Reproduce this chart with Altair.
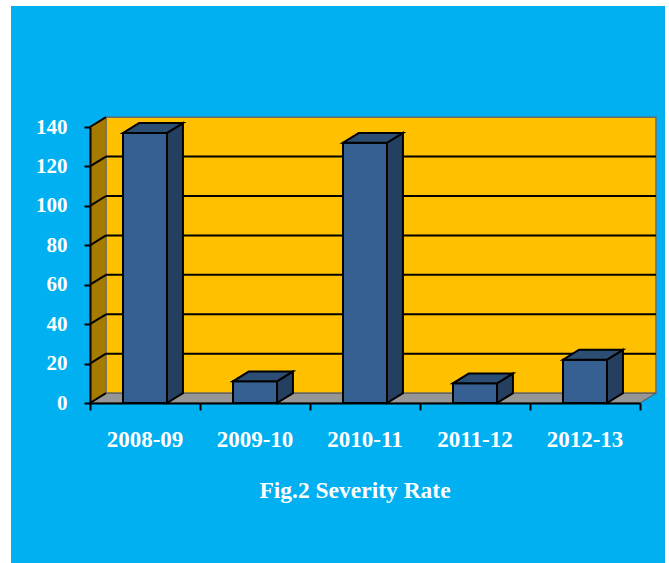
import altair as alt
import pandas as pd

# Severity rate per financial year
categories = ["2008-09", "2009-10", "2010-11", "2011-12", "2012-13"]
values = [137, 11, 132, 10, 22]
y_ticks = [0, 20, 40, 60, 80, 100, 120, 140]

# Pseudo-3D depth, expressed in data units of the x (category index) and y scales
DX = 0.145
DY = 5.0
BAR_L, BAR_R = 0.3, 0.7
N = len(categories)
YMAX = 140

FONT = "Liberation Serif"
PANEL = "#00B0F0"
WALL = "#FFC000"
SIDE_WALL = "#A67C00"
FLOOR = "#969696"
FRONT = "#376092"
SIDE = "#243F60"
TOP = "#2C4D74"

xs = alt.Scale(domain=[0, N], nice=False, zero=False)
ys = alt.Scale(domain=[0, YMAX], nice=False)

x_axis = alt.Axis(values=list(range(N + 1)), labels=False, title=None, grid=False,
                  tickColor="black", tickSize=7, tickWidth=2,
                  domainColor="black", domainWidth=2, zindex=2)
y_axis = alt.Axis(values=y_ticks, title=None, grid=False,
                  labelFont=FONT, labelFontWeight="bold", labelFontSize=21,
                  labelColor="white", labelPadding=17,
                  labelOverlap=False, labelFlush=False, labelBound=False,
                  tickColor="black", tickSize=6, tickWidth=2,
                  domainColor="black", domainWidth=2, zindex=2)


def X(field):
    return alt.X(field, scale=xs, axis=x_axis)


def Y(field):
    return alt.Y(field, scale=ys, axis=y_axis)


# Blue panel behind everything
panel = alt.Chart(pd.DataFrame({"k": [0]})).mark_rect(fill=PANEL).encode(
    x=alt.value(-79), x2=alt.value(575), y=alt.value(-121), y2=alt.value(436)
)

# Back wall
back = alt.Chart(pd.DataFrame({"x": [DX], "x2": [N + DX], "y": [DY], "y2": [YMAX + DY]})).mark_rect(
    fill=WALL, stroke="#6b6b6b", strokeWidth=1.5
).encode(x=X("x:Q"), x2="x2:Q", y=Y("y:Q"), y2="y2:Q")

# Left side wall (parallelogram)
left_df = pd.DataFrame({"x": [0, DX], "y": [0, DY], "y2": [YMAX, YMAX + DY]})
left = alt.Chart(left_df).mark_area(fill=SIDE_WALL, stroke="#6b6b6b", strokeWidth=1, opacity=1).encode(
    x=X("x:Q"), y=Y("y:Q"), y2="y2:Q"
)

# Floor (parallelogram)
floor_df = pd.DataFrame({"y": [0, DY], "x": [0, DX], "x2": [N, N + DX]})
floor = alt.Chart(floor_df).mark_area(orient="horizontal", fill=FLOOR, stroke="#555555",
                                      strokeWidth=1, opacity=1).encode(
    y=Y("y:Q"), x=X("x:Q"), x2="x2:Q"
)

# Gridlines on the back wall and their diagonals on the side wall
grid_vals = [v for v in y_ticks if 0 < v < YMAX]
back_grid = alt.Chart(pd.DataFrame({"v": [v + DY for v in grid_vals],
                                    "a": [DX] * len(grid_vals),
                                    "b": [N + DX] * len(grid_vals)})).mark_rule(
    color="black", strokeWidth=2
).encode(x=X("a:Q"), x2="b:Q", y=Y("v:Q"))

diag_df = pd.DataFrame({"y": y_ticks, "y2": [v + DY for v in y_ticks],
                        "a": [0] * len(y_ticks), "b": [DX] * len(y_ticks)})
diag = alt.Chart(diag_df).mark_rule(color="black", strokeWidth=2).encode(
    x=X("a:Q"), x2="b:Q", y=Y("y:Q"), y2="y2:Q"
)

# Bars: front face, side face, top face
idx = list(range(N))
front_df = pd.DataFrame({"cat": categories, "x": [i + BAR_L for i in idx],
                         "x2": [i + BAR_R for i in idx], "v": values, "base": [0] * N})
front = alt.Chart(front_df).mark_rect(fill=FRONT, stroke="black", strokeWidth=2).encode(
    x=X("x:Q"), x2="x2:Q", y=Y("v:Q"), y2="base:Q"
)

side_rows = []
for i, (c, v) in enumerate(zip(categories, values)):
    side_rows.append({"cat": c, "x": i + BAR_R, "y": 0, "y2": v})
    side_rows.append({"cat": c, "x": i + BAR_R + DX, "y": DY, "y2": v + DY})
side = alt.Chart(pd.DataFrame(side_rows)).mark_area(fill=SIDE, stroke="black", strokeWidth=2,
                                                     opacity=1).encode(
    x=X("x:Q"), y=Y("y:Q"), y2="y2:Q", detail="cat:N"
)

top_rows = []
for i, (c, v) in enumerate(zip(categories, values)):
    top_rows.append({"cat": c, "y": v, "x": i + BAR_L, "x2": i + BAR_R})
    top_rows.append({"cat": c, "y": v + DY, "x": i + BAR_L + DX, "x2": i + BAR_R + DX})
top = alt.Chart(pd.DataFrame(top_rows)).mark_area(orient="horizontal", fill=TOP, stroke="black",
                                                  strokeWidth=2, opacity=1).encode(
    y=Y("y:Q"), x=X("x:Q"), x2="x2:Q", detail="cat:N"
)

# Category labels under the floor
lab_df = pd.DataFrame({"cat": categories, "x": [i + 0.5 for i in idx]})
cat_labels = alt.Chart(lab_df).mark_text(font=FONT, fontWeight="bold", fontSize=23, color="white",
                                         baseline="middle", align="center").encode(
    x=X("x:Q"), y=alt.value(313), text="cat:N"
)

title = alt.Chart(pd.DataFrame({"t": ["Fig.2 Severity Rate"]})).mark_text(
    font=FONT, fontWeight="bold", fontSize=23.5, color="white", baseline="middle", align="center"
).encode(x=alt.value(265), y=alt.value(364), text="t:N")

chart = alt.layer(
    panel, back, left, floor, back_grid, diag, front, side, top, cat_labels, title
).properties(
    width=550, height=276,
    padding={"left": 90, "top": 127, "right": 29, "bottom": 160},
    autosize=alt.AutoSizeParams(type="none"),
    background="white",
).configure_view(stroke=None).configure_axis(labelOverlap=False, labelBound=False, labelFlush=False)

chart.save("out.html", embed_options={"renderer": "svg", "actions": False})
